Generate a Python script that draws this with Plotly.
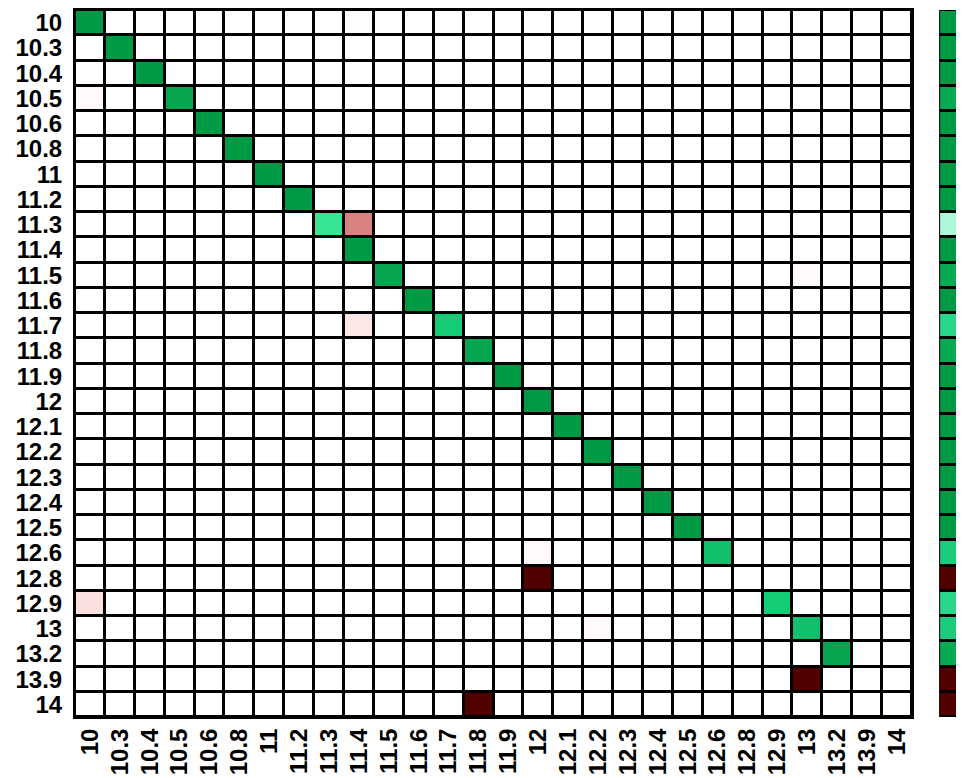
import plotly.graph_objects as go

labels = ["10", "10.3", "10.4", "10.5", "10.6", "10.8", "11", "11.2", "11.3", "11.4",
          "11.5", "11.6", "11.7", "11.8", "11.9", "12", "12.1", "12.2", "12.3", "12.4",
          "12.5", "12.6", "12.8", "12.9", "13", "13.2", "13.9", "14"]

# per-class accuracy (diagonal of the normalised confusion matrix)
accuracy = [1.0, 1.0, 1.0, 0.97, 1.0, 1.0, 1.0, 1.0, 0.6, 1.0,
            0.97, 1.0, 0.86, 0.97, 1.0, 1.0, 1.0, 1.0, 1.0, 1.0,
            1.0, 0.9, 0.0, 0.86, 0.9, 0.97, 0.0, 0.0]

# off-diagonal misclassifications: (true label, predicted label, share)
errors_true = ["10.5", "11.3", "11.5", "11.7", "12.6", "12.8", "12.9", "13", "13.9", "14", "10"]
errors_pred = ["10", "11.4", "13", "11.4", "12", "12", "10", "12.2", "13", "11.8", "11.4"]
errors_val = [0.02, 0.4, 0.02, 0.08, 0.02, 1.0, 0.1, 0.02, 1.0, 1.0, 0.01]

n = len(labels)
idx = list(range(n))
off = [[0.0] * n for _ in range(n)]
for t, p, v in zip(errors_true, errors_pred, errors_val):
    off[labels.index(t)][labels.index(p)] = v
diag = [[accuracy[i] if i == j else None for j in range(n)] for i in range(n)]

red_scale = [[0, "#ffffff"], [0.05, "#fef0f0"], [0.1, "#fbe0e0"], [0.4, "#d98282"], [1, "#500000"]]
green_scale = [[0, "#ffffff"], [0.5, "#b4f8dd"], [0.6, "#36e695"], [0.86, "#14cc76"],
               [0.9, "#10c06c"], [0.97, "#05a64f"], [1, "#009a45"]]
strip_scale = [[0, "#500000"], [0.5, "#ffffff"], [0.6, "#aef6d8"], [0.86, "#2ad68a"],
               [0.9, "#1ccb7c"], [0.97, "#07a953"], [1, "#009944"]]

fig = go.Figure()
fig.add_trace(go.Heatmap(z=off, x=idx, y=idx, colorscale=red_scale, zmin=0, zmax=1,
                         showscale=False, xgap=3, ygap=3, hoverinfo="skip"))
fig.add_trace(go.Heatmap(z=diag, x=idx, y=idx, colorscale=green_scale, zmin=0, zmax=1,
                         showscale=False, xgap=3, ygap=3, hoverinfo="skip"))
fig.add_trace(go.Heatmap(z=[[a] for a in accuracy], x=[0], y=idx, colorscale=strip_scale,
                         zmin=0, zmax=1, showscale=False, xgap=3, ygap=3,
                         xaxis="x2", yaxis="y", hoverinfo="skip"))

tick_font = dict(family="Liberation Sans, Arial, sans-serif", size=24, color="black",
                 weight="bold")
fig.update_layout(
    width=956, height=770,
    margin=dict(l=67, r=0, t=2, b=61, autoexpand=False),
    paper_bgcolor="white", plot_bgcolor="black",
    xaxis=dict(domain=[0, 0.9415], range=[-0.5, n - 0.5], tickvals=idx, ticktext=labels,
               tickangle=-90, showgrid=False, zeroline=False, ticks="",
               tickfont=tick_font, automargin=False, ticklabelstandoff=0,
               showline=True, linecolor="black", linewidth=2, mirror=True),
    yaxis=dict(range=[n - 0.5, -0.5], tickvals=idx, ticktext=labels, showgrid=False,
               zeroline=False, ticks="", tickfont=tick_font, automargin=False,
               ticklabelstandoff=6,
               showline=True, linecolor="black", linewidth=2, mirror=True),
    xaxis2=dict(domain=[0.972, 1.0], range=[-0.5, 0.3], showticklabels=False,
                showgrid=False, zeroline=False, ticks=""),
)
fig.write_html("out.html")
